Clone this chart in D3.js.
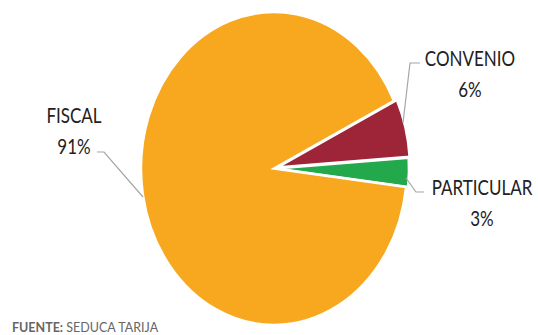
<!DOCTYPE html>
<html>
<head>
<meta charset="utf-8">
<script src="https://cdn.jsdelivr.net/npm/d3@7"></script>
<style>
  body { margin: 0; background: #fff; }
  text { font-family: Lato, "Open Sans", sans-serif; fill: #222; }
</style>
</head>
<body>
<svg id="pie" width="538" height="335"></svg>
<script>
const categories = ["CONVENIO", "PARTICULAR", "FISCAL"];
const values = [6, 3, 91];
const labels = ["6%", "3%", "91%"];
const colors = ["#9E2438", "#23A84B", "#F7A81E"];

const width = 538, height = 335;
const cx = 274, cy = 168.5,
    rx = 133, ry = 156.5;

const svg = d3.select("#pie");

const data = categories.map(function (c, i) {
    return {name: c, value: values[i], label: labels[i], color: colors[i]};
});

const start = 64.4 * Math.PI / 180;
const pie = d3.pie()
    .sort(null)
    .value(function (d) { return d.value; })
    .startAngle(start)
    .endAngle(start + 2 * Math.PI);

const arc = d3.arc().innerRadius(0).outerRadius(rx);

// pie is stretched vertically in the original picture
const g = svg.append("g")
    .attr("transform", "translate(" + cx + "," + cy + ") scale(1," + (ry / rx) + ")");

const explode = {CONVENIO: 3, PARTICULAR: 2, FISCAL: 0};

g.selectAll("path")
    .data(pie(data))
    .enter().append("path")
    .attr("d", arc)
    .attr("fill", function (d) { return d.data.color; })
    .attr("stroke", "#fff")
    .attr("stroke-width", 2.5)
    .attr("vector-effect", "non-scaling-stroke")
    .attr("transform", function (d) {
        const a = (d.startAngle + d.endAngle) / 2;
        const e = explode[d.data.name];
        return "translate(" + (Math.sin(a) * e) + "," + (-Math.cos(a) * e) + ")";
    });

// leader lines
const leaders = [
    [[403, 123], [410, 63], [420, 63]],
    [[406, 178], [416, 192], [424, 192]],
    [[143, 197], [104, 152], [97, 152]]
];
svg.selectAll("polyline")
    .data(leaders)
    .enter().append("polyline")
    .attr("points", function (d) { return d.map(function (p) { return p.join(","); }).join(" "); })
    .attr("fill", "none")
    .attr("stroke", "#a6a6a6")
    .attr("stroke-width", 1.2);

// labels
const labelPos = [[470, 66], [482, 195], [74, 123]];
const lab = svg.selectAll("g.lab")
    .data(data)
    .enter().append("g")
    .attr("class", "lab")
    .attr("transform", function (d, i) {
        return "translate(" + labelPos[i][0] + "," + labelPos[i][1] + ") scale(1,1.2)";
    });

lab.append("text")
    .attr("text-anchor", "middle")
    .attr("font-size", 17)
    .text(function (d) { return d.name; });

lab.append("text")
    .attr("text-anchor", "middle")
    .attr("font-size", 17)
    .attr("y", 25.5)
    .text(function (d) { return d.label; });

const src = svg.append("text")
    .attr("x", 12)
    .attr("y", 332)
    .attr("font-size", 12.5)
    .style("fill", "#666");
src.append("tspan").attr("font-weight", "bold").text("FUENTE:");
src.append("tspan").text(" SEDUCA TARIJA");
</script>
</body>
</html>
